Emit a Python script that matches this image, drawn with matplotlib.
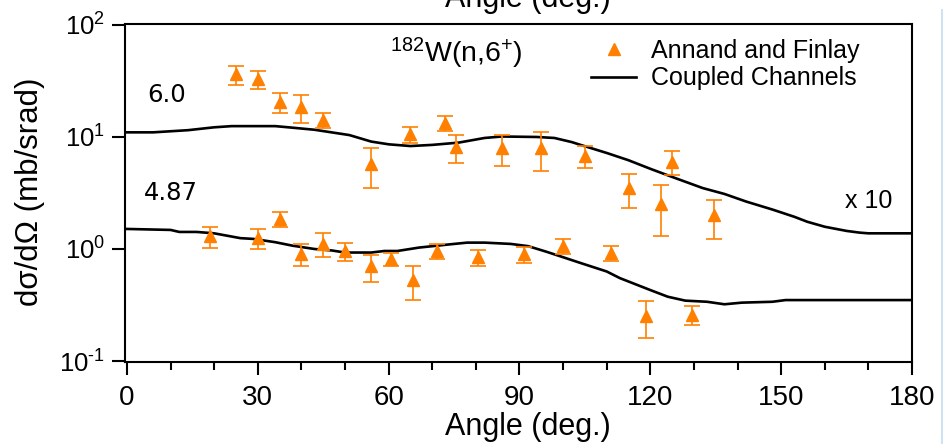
import numpy as np
import matplotlib
matplotlib.use("Agg")
import matplotlib.pyplot as plt
from matplotlib.lines import Line2D
from matplotlib.ticker import FixedLocator, MultipleLocator, NullLocator

plt.rcParams['font.family'] = ['Liberation Sans', 'DejaVu Sans']
plt.rcParams['mathtext.fontset'] = 'custom'
plt.rcParams['mathtext.rm'] = 'Liberation Sans'
plt.rcParams['mathtext.it'] = 'Liberation Sans:italic'
plt.rcParams['mathtext.bf'] = 'Liberation Sans:bold'

# Measured cross sections, 182W(n,6+) (upper set scaled x10)
angle_hi = [25, 30, 35, 40, 45, 56, 65, 73, 75.5, 86, 95, 105, 115, 122.5, 125, 134.5]
xs_hi = [36.2, 32.9, 20.5, 18.5, 14.2, 5.7, 10.6, 13.3, 8.1, 7.95, 8.05, 6.8, 3.5, 2.5, 6.0, 2.0]
err_hi = [7.1, 5.9, 4.0, 5.2, 2.2, 2.2, 1.75, 2.1, 2.3, 2.45, 3.05, 1.5, 1.2, 1.2, 1.45, 0.76]

angle_lo = [19, 30, 35, 40, 45, 50, 56, 60.5, 65.5, 71, 80.5, 91, 100, 111, 119, 129.5]
xs_lo = [1.30, 1.25, 1.85, 0.90, 1.11, 0.95, 0.70, 0.81, 0.53, 0.955, 0.84, 0.90, 1.07, 0.92, 0.25, 0.26]
err_lo = [0.28, 0.26, 0.27, 0.20, 0.27, 0.17, 0.19, 0.105, 0.18, 0.145, 0.14, 0.15, 0.17, 0.14, 0.09, 0.05]

# Coupled-channels calculations
cc_angle_hi = [0, 6, 14, 20, 24, 34, 38, 43, 51, 56, 60, 65, 70, 76, 82, 86, 94, 98,
               102, 104, 110, 115, 120, 125, 132, 137, 142, 148, 153, 156, 160, 165,
               168, 170, 179.5]
cc_hi = [11.0, 11.0, 11.5, 12.2, 12.5, 12.5, 12.1, 11.6, 10.4, 9.1, 8.6, 8.3, 8.5, 8.9,
         9.8, 10.1, 10.0, 9.8, 9.0, 8.5, 7.2, 6.2, 5.2, 4.4, 3.5, 3.1, 2.65, 2.25, 1.94,
         1.75, 1.58, 1.45, 1.40, 1.38, 1.38]

cc_angle_lo = [0, 10, 12, 16, 20, 26, 29, 34, 38, 43, 47, 50, 56, 59, 62, 67, 74, 78, 82,
               88, 92, 96, 99, 104, 110, 113, 120, 124, 128, 133, 137, 141, 148, 151, 179.5]
cc_lo = [1.51, 1.48, 1.42, 1.42, 1.38, 1.25, 1.23, 1.15, 1.07, 1.00, 0.97, 0.93, 0.93, 0.96,
         0.96, 1.03, 1.10, 1.14, 1.14, 1.11, 1.06, 0.95, 0.87, 0.75, 0.63, 0.55, 0.43, 0.375,
         0.346, 0.338, 0.321, 0.332, 0.338, 0.35, 0.35]

x_ticks = [0, 30, 60, 90, 120, 150, 180]
y_ticks = [0.1, 1, 10, 100]
y_tick_labels = [r'$10^{\mathrm{\text{-}1}}$', r'$10^{0}$', r'$10^{1}$', r'$10^{2}$']

orange = '#ff8000'
wide = ['DejaVu Sans']

fig = plt.figure(figsize=(9.43, 4.44), dpi=100)
ax = fig.add_axes([125 / 943, 1 - 362 / 444, (912 - 125) / 943, (362 - 24) / 444])

ax.plot(cc_angle_hi, cc_hi, color='black', lw=1.9, solid_joinstyle='round')
ax.plot(cc_angle_lo, cc_lo, color='black', lw=1.9, solid_joinstyle='round')

for a, v, e in [(angle_hi, xs_hi, err_hi), (angle_lo, xs_lo, err_lo)]:
    ax.errorbar(a, v, yerr=e, fmt='^', color=orange, ms=8.5, mec=orange,
                elinewidth=1.2, capsize=5.5, capthick=1.2)

ax.set_yscale('log')
ax.set_xlim(-0.45, 180)
ax.set_ylim(0.098, 102)

ax.xaxis.set_major_locator(FixedLocator(x_ticks))
ax.xaxis.set_minor_locator(MultipleLocator(10))
ax.yaxis.set_major_locator(FixedLocator(y_ticks))
ax.yaxis.set_minor_locator(NullLocator())
ax.set_yticklabels(y_tick_labels)

ax.tick_params(axis='both', which='major', direction='out', width=1.5, length=9.5,
               color='black')
ax.tick_params(axis='x', which='minor', direction='out', width=1.5, length=5.5)
ax.tick_params(axis='x', which='major', labelsize=20, pad=7)
ax.tick_params(axis='y', which='major', labelsize=18.5, pad=5)
ax.tick_params(axis='x', which='both', top=False)
ax.tick_params(axis='y', which='both', right=False)

for s in ax.spines.values():
    s.set_linewidth(1.5)

ax.set_xlabel('Angle (deg.)', fontsize=22)
ax.xaxis.set_label_coords((527.5 - 125) / 787, -(435 - 362) / 338)
ax.xaxis.label.set_va('baseline')
ax.set_ylabel('dσ/dΩ (mb/srad)', fontsize=22.5)
ax.yaxis.set_label_coords(-(125 - 30) / 787, (362 - 191.5) / 338)
ax.yaxis.label.set_va('center')

ax.text((147 - 125) / 787, (362 - 102) / 338, '6.0', transform=ax.transAxes,
        fontsize=17.5, family=wide, va='baseline')
ax.text((144 - 125) / 787, (362 - 200) / 338, '4.87', transform=ax.transAxes,
        fontsize=17.5, family=wide, va='baseline')
ax.text((845 - 125) / 787, (362 - 208) / 338, 'x 10', transform=ax.transAxes,
        fontsize=18, va='baseline')
ax.text((390 - 125) / 787, (362 - 62) / 338, r'$^{182}$W(n,6$^{+}$)', transform=ax.transAxes,
        fontsize=20.5, va='baseline')

handles = [Line2D([], [], ls='none', marker='^', color=orange, ms=8.5),
           Line2D([], [], color='black', lw=1.9)]
ax.legend(handles, ['Annand and Finlay', 'Coupled Channels'], loc='upper left',
          bbox_to_anchor=(0.58, 0.985), frameon=False, fontsize=18, handlelength=1.8,
          handletextpad=0.6, labelspacing=0.13, borderaxespad=0.0)

# previous panel's axis title, clipped at the top edge
fig.text(527.5 / 943, 1 - 7 / 444, 'Angle (deg.)', fontsize=22,
         ha='center', va='baseline')
# thin border line on the right edge
fig.add_artist(Line2D([941.5 / 943, 941.5 / 943], [0, 1 - 10 / 444],
                      transform=fig.transFigure, color='#cde3f2', lw=1.5))

fig.savefig('out.png', dpi=100)
